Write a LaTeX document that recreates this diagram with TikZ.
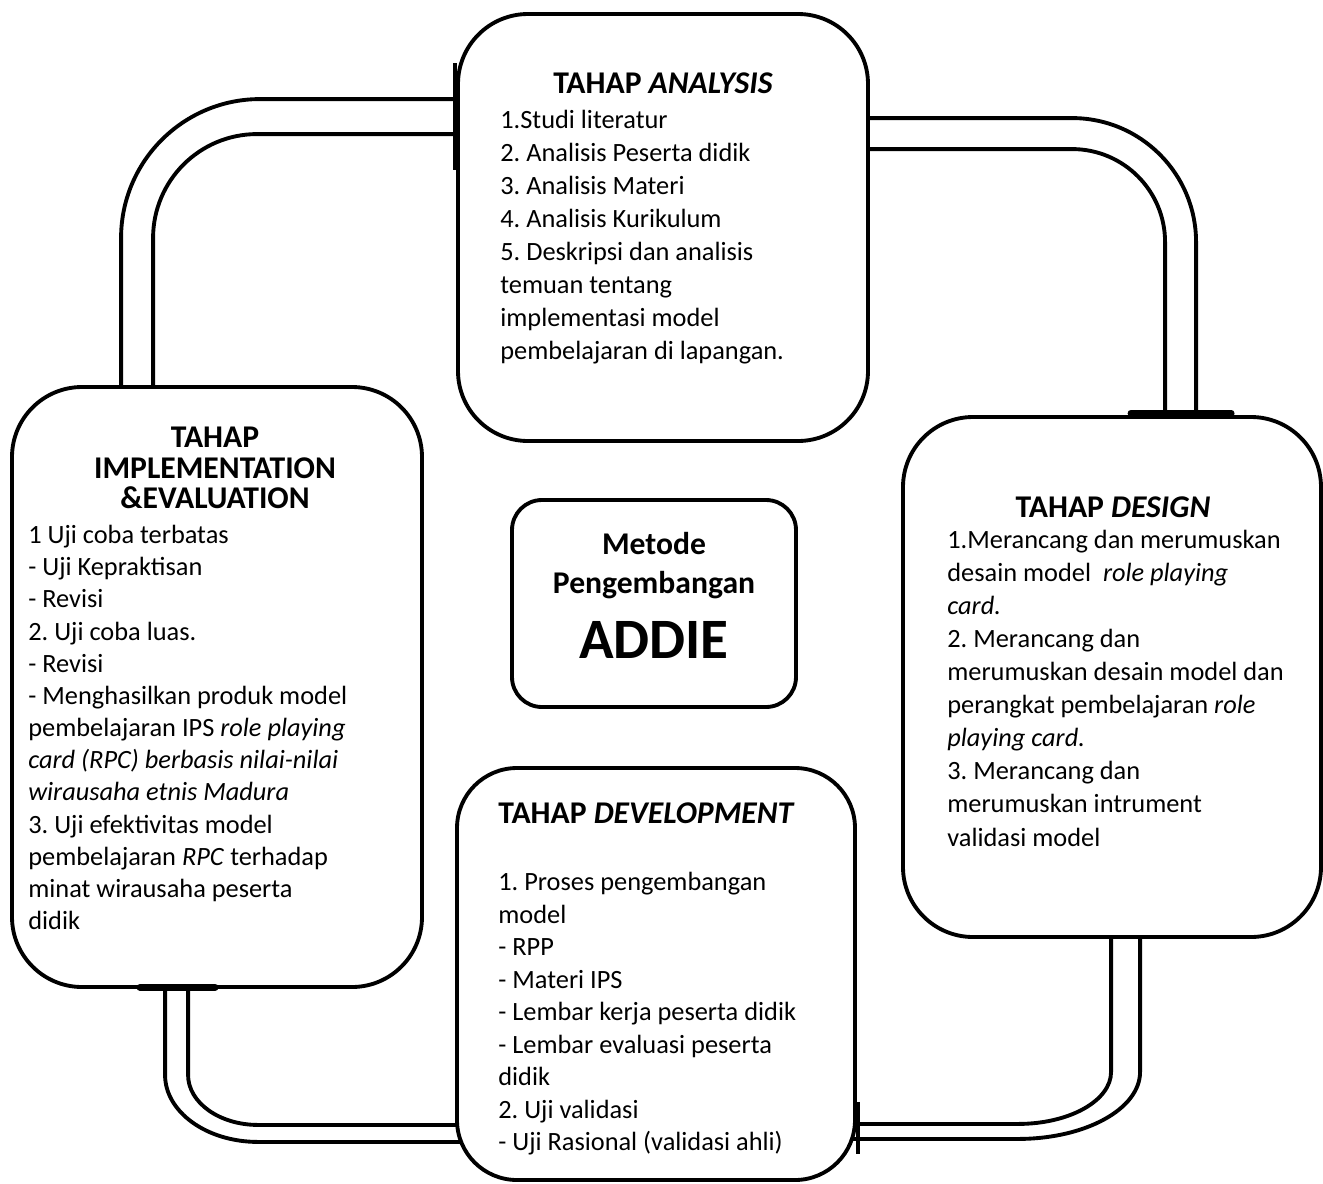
\documentclass[tikz,border=0pt]{standalone}
\usepackage{fontspec}
\setmainfont{Carlito}
\usetikzlibrary{positioning, backgrounds}

\newcommand\stagehead{\fontsize{18}{17.5}\selectfont\bfseries}
\newcommand\stagebody{\fontsize{15}{18.8}\selectfont\frenchspacing}

\begin{document}
\begin{tikzpicture}[%
		stage/.style={
			rectangle,
			rounded corners=1.4cm,
			line width=2.2pt,
			fill=white,
			inner sep=0pt,
			draw
		},
		core/.style={
			rectangle,
			rounded corners=0.6cm,
			line width=2.2pt,
			fill=white,
			inner sep=0pt,
			minimum width=5.68cm,
			minimum height=4.14cm,
			draw
		},
		heading/.style={
			font=\stagehead,
			align=center,
			inner sep=0pt
		},
		steps/.style={
			font=\stagebody,
			align=left,
			anchor=north west,
			inner sep=0pt
		},
		pipe/.style={
			line width=2.2pt
		},
		joint/.style={
			line width=4pt,
			line cap=round
		}]

		\useasboundingbox (0,0) rectangle (26.46,-23.66);

		% BOXES

		\node (ana) [stage, minimum width=8.2cm, minimum height=8.54cm] at (13.26,-4.55) {};
		\node (des) [stage, minimum width=8.36cm, minimum height=10.4cm] at (22.24,-13.54) {};
		\node (imp) [stage, minimum width=8.2cm, minimum height=12cm] at (4.34,-13.74) {};
		\node (dev) [stage, rounded corners=1.2cm, minimum width=7.96cm, minimum height=8.24cm] at (13.12,-19.48) {};

		% PIPES

		\begin{pgfonlayer}{background}
		% analysis -> implementation
		\draw[pipe, rounded corners=2.78cm] ([yshift=-1.74cm]ana.north west) -| ([xshift=2.22cm]imp.north west);
		\draw[pipe, rounded corners=2.08cm] ([yshift=-2.44cm]ana.north west) -| ([xshift=2.86cm]imp.north west);

		% analysis -> design
		\draw[pipe, rounded corners=2.48cm] ([yshift=-2.12cm]ana.north east) -| ([xshift=5.9cm]des.north west);
		\draw[pipe, rounded corners=1.86cm] ([yshift=-2.74cm]ana.north east) -| ([xshift=5.28cm]des.north west);

		% design -> development
		\draw[pipe] ([xshift=4.2cm]des.south west) -- ++(0,-2.66) arc[start angle=0, end angle=-90, x radius=1.86cm, y radius=1.04cm] -- ([xshift=-0.6cm, yshift=1.16cm]dev.south east);
		\draw[pipe] ([xshift=4.78cm]des.south west) -- ++(0,-2.66) arc[start angle=0, end angle=-90, x radius=2.44cm, y radius=1.34cm] -- ([xshift=-0.6cm, yshift=0.86cm]dev.south east);

		% implementation -> development
		\draw[pipe] ([xshift=3.1cm]imp.south west) -- ++(0,-1.72) arc[start angle=180, end angle=270, x radius=1.86cm, y radius=1.34cm] -- ([xshift=0.6cm, yshift=0.8cm]dev.south west);
		\draw[pipe] ([xshift=3.56cm]imp.south west) -- ++(0,-1.72) arc[start angle=180, end angle=270, x radius=1.4cm, y radius=1cm] -- ([xshift=0.6cm, yshift=1.14cm]dev.south west);
		\end{pgfonlayer}

		% joints and stubs
		\draw[joint] ([xshift=4.6cm, yshift=0.04cm]des.north west) -- ([xshift=6.6cm, yshift=0.04cm]des.north west);
		\draw[joint] ([xshift=2.6cm, yshift=0.03cm]imp.south west) -- ([xshift=4.1cm, yshift=0.03cm]imp.south west);
		\draw[pipe] ([xshift=-0.03cm, yshift=-1.02cm]ana.north west) -- ([xshift=-0.03cm, yshift=-3.16cm]ana.north west);
		\draw[pipe] ([xshift=0.02cm, yshift=1.6cm]dev.south east) -- ([xshift=0.02cm, yshift=0.56cm]dev.south east);

		% CENTRE

		\node (core) [core] at (13.08,-12.07) {};
		\node (coreT) [heading, font=\fontsize{18}{22}\selectfont\bfseries] at (13.08,-11.31) {Metode\\Pengembangan};
		\node (coreA) [heading, font=\fontsize{32.5}{34}\selectfont\bfseries] at (13.08,-12.8) {ADDIE};

		% ANALYSIS

		\node (anaH) [heading] at (13.26,-1.66) {TAHAP \textit{ANALYSIS}};
		\node (anaS) [steps] at (10.0,-2.2) {1.Studi literatur\\
			2. Analisis Peserta didik\\
			3. Analisis Materi\\
			4. Analisis Kurikulum\\
			5. Deskripsi dan analisis\\
			temuan tentang\\
			implementasi model\\
			pembelajaran di lapangan.};

		% DESIGN

		\node (desH) [heading] at (22.26,-10.14) {TAHAP \textit{DESIGN}};
		\node (desS) [steps] at (18.94,-10.6) {1.Merancang dan merumuskan\\
			desain model\ \ \textit{role playing}\\
			\textit{card.}\\
			2. Merancang dan\\
			merumuskan desain model dan\\
			perangkat pembelajaran \textit{role}\\
			\textit{playing card.}\\
			3. Merancang dan\\
			merumuskan intrument\\
			validasi model};

		% IMPLEMENTATION & EVALUATION

		\node (impH) [heading] at (4.3,-9.36) {TAHAP\\IMPLEMENTATION\\\&EVALUATION};
		\node (impS) [steps, font=\fontsize{15}{18.3}\selectfont\frenchspacing] at (0.56,-10.5) {1 Uji coba terbatas\\
			- Uji Kepraktisan\\
			- Revisi\\
			2. Uji coba luas.\\
			- Revisi\\
			- Menghasilkan produk model\\
			pembelajaran IPS \textit{role playing}\\
			\textit{card (RPC) berbasis nilai-nilai}\\
			\textit{wirausaha etnis Madura}\\
			3. Uji efektivitas model\\
			pembelajaran \textit{RPC} terhadap\\
			minat wirausaha peserta\\
			didik};

		% DEVELOPMENT

		\node (devH) [heading, anchor=west] at (9.96,-16.26) {TAHAP \textit{DEVELOPMENT}};
		\node (devS) [steps, font=\fontsize{15}{18.5}\selectfont\frenchspacing] at (9.96,-17.44) {1. Proses pengembangan\\
			model\\
			- RPP\\
			- Materi IPS\\
			- Lembar kerja peserta didik\\
			- Lembar evaluasi peserta\\
			didik\\
			2. Uji validasi\\
			- Uji Rasional (validasi ahli)};
\end{tikzpicture}
\end{document}
